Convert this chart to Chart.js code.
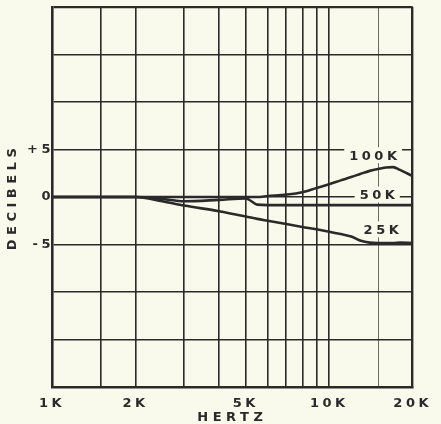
<!DOCTYPE html>
<html>
<head>
<meta charset="utf-8">
<script src="https://cdn.jsdelivr.net/npm/chart.js@4.4.1/dist/chart.umd.min.js"></script>
<style>
  html, body { margin: 0; padding: 0; background: #fafaec; }
  #chart { display: block; }
</style>
</head>
<body>
<canvas id="chart" width="441" height="424"></canvas>
<script>
// frequency response, dB vs Hz, one curve per load
const frequencies = [1000, 1500, 2000, 2500, 3000, 4000, 5000, 5500, 6000, 7000, 8000, 9000, 10000, 11000, 12000, 13000, 14000, 15000, 16000, 17000, 18000, 20000];
const response100k = [0, 0, 0, 0, 0, 0, 0, 0, 0.1, 0.25, 0.5, 0.95, 1.35, 1.75, 2.1, 2.45, 2.75, 2.95, 3.1, 3.15, 2.85, 2.2];
const response50k = [0, 0, 0, -0.2, -0.45, -0.3, -0.15, -0.8, -0.85, -0.85, -0.85, -0.85, -0.85, -0.85, -0.85, -0.85, -0.85, -0.85, -0.85, -0.85, -0.85, -0.85];
const response25k = [0, 0, 0, -0.45, -0.9, -1.5, -2.05, -2.3, -2.5, -2.85, -3.15, -3.4, -3.65, -3.9, -4.15, -4.6, -4.8, -4.85, -4.85, -4.85, -4.8, -4.85];
const seriesNames = ['100K', '50K', '25K'];

const freqGridValues = [1000, 1500, 2000, 3000, 4000, 5000, 6000, 7000, 8000, 9000, 10000, 15000, 20000];
const freqLabelValues = [1000, 2000, 5000, 10000, 20000];
const freqLabelText = ['1K', '2K', '5K', '10K', '20K'];
const dbGridValues = [-20, -15, -10, -5, 0, 5, 10, 15, 20];
const dbLabelValues = [5, 0, -5];
const dbLabelText = ['+5', '0', '-5'];

// where each curve's name sits (frequency, dB)
const tagFreqs = [14400, 14900, 15400];
const tagDbs = [4.4, 0.25, -3.4];

const INK = '#2a2a2a';
const PAPER = '#fafaec';
const FONT = '"DejaVu Sans", sans-serif';
const SPACING = '3.5px';
const TITLE_SPACING = '4.5px';

// canvas text is spread out like the stencil lettering of the original
const spacingPlugin = {
    id: 'spacing',
    beforeUpdate(chart) {
        chart.ctx.letterSpacing = SPACING;
    },
    beforeDraw(chart) {
        const ctx = chart.ctx;
        ctx.letterSpacing = SPACING;
        Object.values(chart.scales).forEach((scale) => {
            if (scale._spacedTitle) return;
            const draw = scale.drawTitle;
            scale.drawTitle = function () {
                ctx.letterSpacing = TITLE_SPACING;
                draw.call(this);
                ctx.letterSpacing = SPACING;
            };
            scale._spacedTitle = true;
        });
    },
};

const tagPlugin = {
    id: 'curveTags',
    beforeDatasetsDraw(chart) {
        const { ctx } = chart;
        const { x, y } = chart.scales;
        ctx.save();
        ctx.font = 'bold 13px ' + FONT;
        ctx.letterSpacing = SPACING;
        ctx.textBaseline = 'middle';
        ctx.textAlign = 'left';
        seriesNames.forEach((name, i) => {
            const cx = x.getPixelForValue(tagFreqs[i]);
            const cy = y.getPixelForValue(tagDbs[i]);
            const w = ctx.measureText(name).width - 3.5;
            ctx.fillStyle = PAPER;
            ctx.fillRect(cx - w / 2 - 5, cy - 8, w + 10, 16);
            ctx.fillStyle = INK;
            ctx.fillText(name, cx - w / 2, cy + 1);
        });
        ctx.restore();
    },
};

const toPoints = (values) => values.map((v, i) => ({ x: frequencies[i], y: v }));
const labelFont = { family: FONT, size: 13, weight: 'bold' };

new Chart(document.getElementById('chart'), {
    type: 'line',
    data: {
        datasets: [response100k, response50k, response25k].map((values, i) => ({
            label: seriesNames[i],
            data: toPoints(values),
            borderColor: INK,
            borderWidth: 2.6,
            pointRadius: 0,
            cubicInterpolationMode: 'monotone',
        })),
    },
    options: {
        responsive: false,
        animation: false,
        devicePixelRatio: 1,
        layout: { padding: { top: 7, right: 23, left: 0, bottom: 0 } },
        plugins: { legend: { display: false }, tooltip: { enabled: false } },
        scales: {
            x: {
                type: 'logarithmic',
                min: 1000,
                max: 20000,
                afterBuildTicks: (scale) => {
                    scale.ticks = freqGridValues.map((value) => ({ value }));
                },
                afterFit: (scale) => {
                    scale.height = 37;
                },
                ticks: {
                    autoSkip: false,
                    maxRotation: 0,
                    padding: 9,
                    color: INK,
                    font: labelFont,
                    callback: (value) => {
                        const i = freqLabelValues.indexOf(value);
                        return i >= 0 ? freqLabelText[i] : '';
                    },
                },
                grid: {
                    color: (ctx) => (ctx.tick && ctx.tick.value === 15000 ? '#6a6a62' : INK),
                    lineWidth: (ctx) => {
                        const v = ctx.tick ? ctx.tick.value : 0;
                        if (v === 20000) return 2.4;
                        if (v === 15000) return 1;
                        return 1.6;
                    },
                    drawTicks: false,
                },
                border: { display: true, color: INK, width: 2.6 },
                title: {
                    display: true,
                    text: 'HERTZ',
                    color: INK,
                    font: labelFont,
                    padding: { top: 0, bottom: -1 },
                },
            },
            y: {
                min: -20,
                max: 20,
                afterBuildTicks: (scale) => {
                    scale.ticks = dbGridValues.map((value) => ({ value }));
                },
                afterFit: (scale) => {
                    scale.width = 52;
                },
                ticks: {
                    autoSkip: false,
                    padding: -2,
                    color: INK,
                    font: labelFont,
                    callback: (value) => {
                        const i = dbLabelValues.indexOf(value);
                        return i >= 0 ? dbLabelText[i] : '';
                    },
                },
                grid: {
                    color: INK,
                    lineWidth: (ctx) => (ctx.tick && ctx.tick.value === 20 ? 2.2 : 1.6),
                    drawTicks: false,
                },
                border: { display: true, color: INK, width: 2.6 },
                title: {
                    display: true,
                    text: 'DECIBELS',
                    color: INK,
                    font: labelFont,
                    padding: { top: 5, bottom: 0 },
                },
            },
        },
    },
    plugins: [spacingPlugin, tagPlugin],
});
</script>
</body>
</html>
